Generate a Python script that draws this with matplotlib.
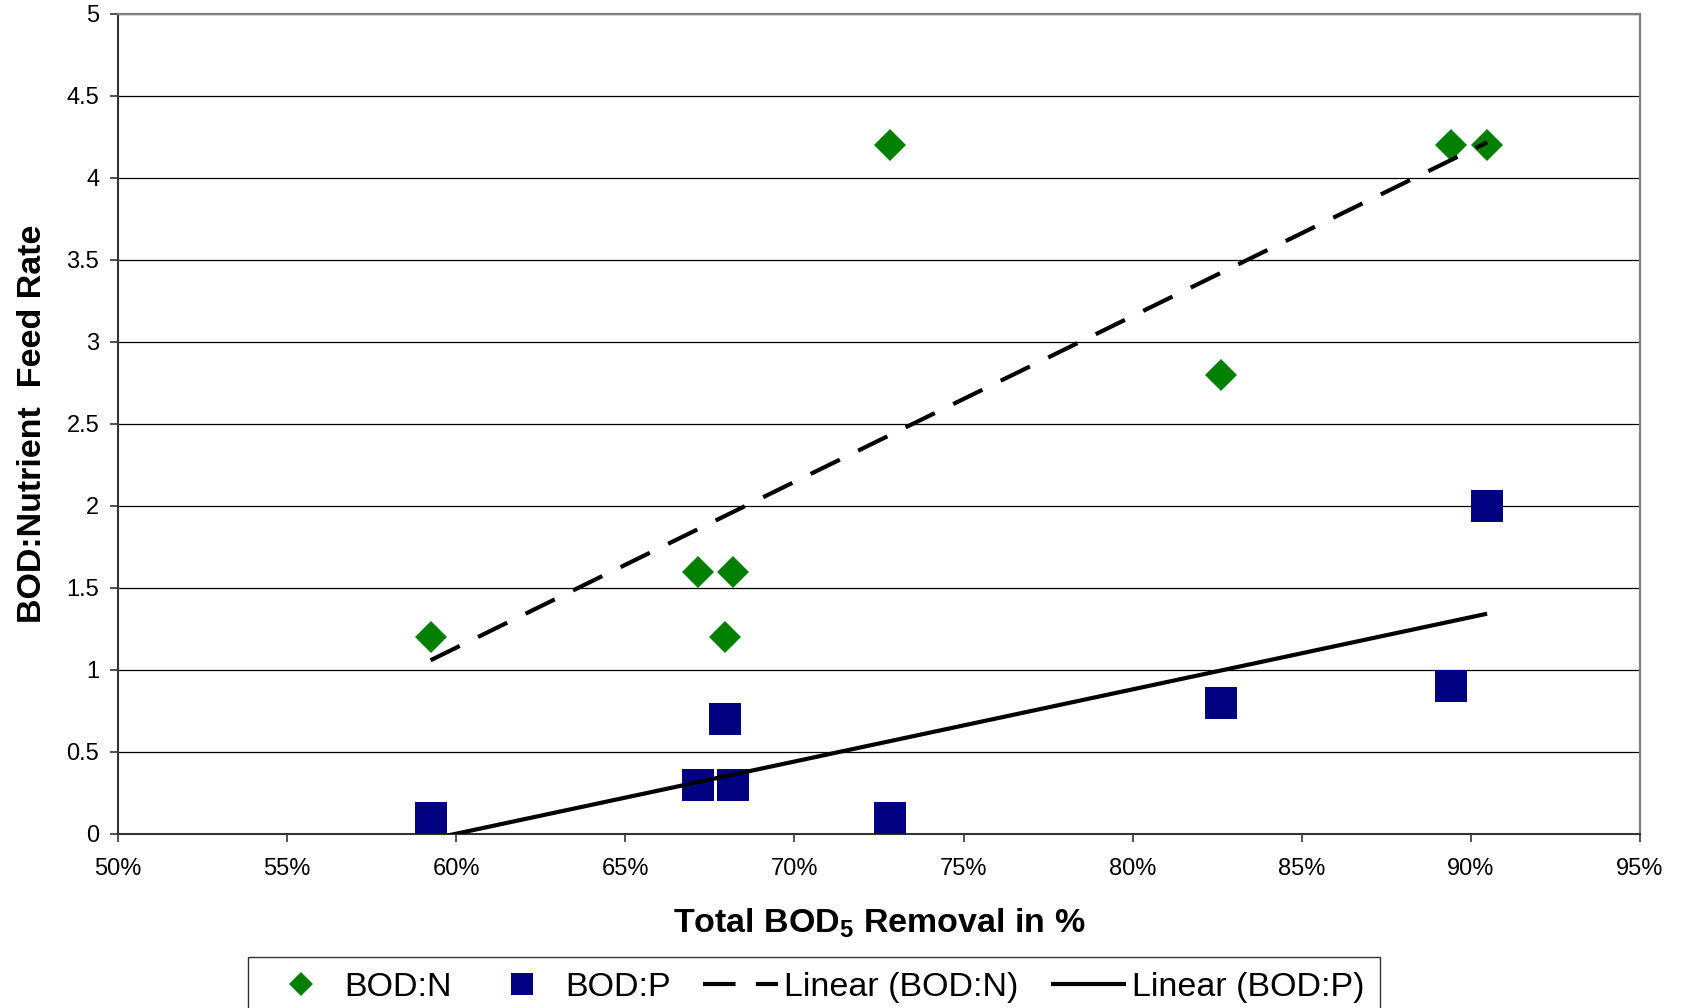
import numpy as np
import matplotlib
matplotlib.use("Agg")
import matplotlib.pyplot as plt
from matplotlib.ticker import PercentFormatter

plt.rcParams["font.family"] = ["Liberation Sans", "DejaVu Sans"]
plt.rcParams["mathtext.fontset"] = "custom"
plt.rcParams["mathtext.rm"] = "Liberation Sans"
plt.rcParams["mathtext.bf"] = "Liberation Sans:bold"

# Total BOD5 removal (fraction) for each run
removal = [0.5924, 0.6714, 0.6819, 0.6794, 0.7283, 0.8260, 0.8940, 0.9048]
# BOD:N and BOD:P feed ratios for the same runs
bod_n = [1.2, 1.6, 1.6, 1.2, 4.2, 2.8, 4.2, 4.2]
bod_p = [0.1, 0.3, 0.3, 0.7, 0.1, 0.8, 0.9, 2.0]

x_ticks = [0.50, 0.55, 0.60, 0.65, 0.70, 0.75, 0.80, 0.85, 0.90, 0.95]
y_ticks = [0, 0.5, 1, 1.5, 2, 2.5, 3, 3.5, 4, 4.5, 5]

fig = plt.figure(figsize=(16.82, 10.08), dpi=100)
W, H = 1682, 1008
left, right, top, bottom = 118, 1640, 14, 834
ax = fig.add_axes([left / W, 1 - bottom / H, (right - left) / W, (bottom - top) / H])

green = "#008000"
navy = "#000080"

ax.plot(removal, bod_n, linestyle="none", marker="D", markersize=16.3,
        color=green, markeredgewidth=0, label="BOD:N", zorder=3)
ax.plot(removal, bod_p, linestyle="none", marker="s", markersize=23,
        color=navy, markeredgewidth=0, label="BOD:P", zorder=3)

# Least-squares trend lines over the measured range
x_arr = np.array(removal)
xs = np.array([x_arr.min(), x_arr.max()])
cn = np.polyfit(x_arr, bod_n, 1)
cp = np.polyfit(x_arr, bod_p, 1)
ax.plot(xs, np.polyval(cn, xs), color="black", lw=3.0, dashes=(7.8, 4.9),
        dash_capstyle="butt", label="Linear (BOD:N)", zorder=4)
ax.plot(xs, np.polyval(cp, xs), color="black", lw=3.0,
        solid_capstyle="butt", label="Linear (BOD:P)", zorder=4)

ax.set_xlim(0.50, 0.95)
ax.set_ylim(0, 5)
ax.set_xticks(x_ticks)
ax.set_yticks(y_ticks)
ax.set_yticklabels([f"{v:g}" for v in y_ticks])
ax.xaxis.set_major_formatter(PercentFormatter(xmax=1, decimals=0))

ax.yaxis.grid(True, color="black", lw=0.9)
ax.set_axisbelow(True)

for side in ("top", "right"):
    ax.spines[side].set_color("#808080")
    ax.spines[side].set_linewidth(1.6)
for side in ("left", "bottom"):
    ax.spines[side].set_color("#333333")
    ax.spines[side].set_linewidth(1.5)

ax.tick_params(axis="both", direction="out", length=6, width=1.2,
               color="#333333", labelsize=17)
ax.tick_params(axis="x", pad=11)
ax.tick_params(axis="y", pad=7.5)

ax.set_xlabel("Total BOD$_\\mathbf{5}$ Removal in %", fontsize=24.5,
              fontweight="bold", va="top")
ax.xaxis.set_label_coords(0.5, -0.088)
ax.set_ylabel("BOD:Nutrient  Feed Rate", fontsize=24.5, fontweight="bold")
ax.yaxis.set_label_coords(-0.046, 0.5)

leg = fig.legend(loc="upper left", bbox_to_anchor=(248 / W, 1 - 957 / H),
                 ncol=4, fontsize=24.5, frameon=True, fancybox=False,
                 markerscale=0.72, handlelength=2.2, handletextpad=0.18,
                 columnspacing=0.95, borderpad=0.45, borderaxespad=0)
leg.get_frame().set_edgecolor("black")
leg.get_frame().set_linewidth(1.0)

fig.savefig("out.png", dpi=100)
